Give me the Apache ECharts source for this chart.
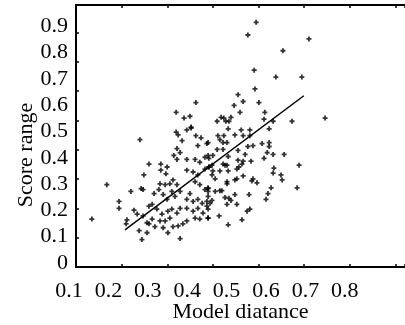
<!DOCTYPE html>
<html>
<head>
<meta charset="utf-8">
<script src="https://cdn.jsdelivr.net/npm/echarts@6/dist/echarts.min.js"></script>
<style>
html,body{margin:0;padding:0;background:#fff;}
#chart{width:405px;height:325px;}
</style>
</head>
<body>
<div id="chart"></div>
<script>
const xTickLabels = ['0.1','0.2','0.3','0.4','0.5','0.6','0.7','0.8'];
const yTickLabels = ['0','0.1','0.2','0.3','0.4','0.5','0.6','0.7','0.8','0.9'];
const xAxisTitle = 'Model diatance';
const yAxisTitle = 'Score range';

const modelDistance = [
 0.422,0.372,0.392,0.407,0.410,0.575,0.554,0.709,0.643,0.570,
 0.625,0.691,0.572,0.529,0.542,0.582,0.519,0.534,0.597,0.476,
 0.486,0.493,0.498,0.506,0.511,0.595,0.618,0.666,0.750,0.158,
 0.196,0.280,0.227,0.227,0.257,0.303,0.290,0.283,0.288,0.247,
 0.245,0.265,0.273,0.278,0.285,0.298,0.303,0.311,0.316,0.328,
 0.333,0.333,0.346,0.349,0.331,0.344,0.356,0.364,0.374,0.339,
 0.349,0.361,0.369,0.382,0.323,0.336,0.344,0.351,0.361,0.356,
 0.374,0.382,0.331,0.339,0.351,0.364,0.377,0.389,0.399,0.382,
 0.318,0.311,0.298,0.288,0.372,0.377,0.399,0.410,0.422,0.435,
 0.387,0.427,0.450,0.374,0.382,0.366,0.374,0.399,0.420,0.432,
 0.445,0.453,0.399,0.415,0.427,0.445,0.455,0.420,0.432,0.445,
 0.453,0.407,0.399,0.415,0.427,0.438,0.450,0.399,0.415,0.427,
 0.440,0.453,0.420,0.432,0.453,0.303,0.504,0.537,0.559,0.608,
 0.478,0.483,0.493,0.521,0.542,0.559,0.453,0.491,0.501,0.590,
 0.608,0.608,0.554,0.567,0.476,0.491,0.529,0.603,0.618,0.646,
 0.465,0.455,0.504,0.547,0.595,0.529,0.542,0.562,0.539,0.491,
 0.496,0.501,0.463,0.455,0.526,0.531,0.620,0.684,0.618,0.465,
 0.463,0.483,0.504,0.542,0.471,0.638,0.641,0.521,0.526,0.567,
 0.564,0.577,0.501,0.501,0.453,0.613,0.679,0.453,0.471,0.483,
 0.488,0.521,0.557,0.605,0.600,0.453,0.463,0.496,0.506,0.511,
 0.458,0.501,0.526,0.450,0.559,0.552,0.453,0.481,0.539,0.504
];
const scoreRange = [
 0.610,0.573,0.551,0.558,0.517,0.915,0.867,0.852,0.807,0.733,
 0.707,0.707,0.662,0.640,0.614,0.610,0.599,0.573,0.573,0.539,
 0.554,0.551,0.539,0.539,0.554,0.547,0.539,0.539,0.551,0.167,
 0.298,0.469,0.234,0.208,0.272,0.376,0.335,0.283,0.279,0.164,
 0.149,0.201,0.186,0.123,0.089,0.115,0.216,0.223,0.264,0.279,
 0.376,0.353,0.339,0.365,0.301,0.298,0.301,0.316,0.298,0.260,
 0.242,0.272,0.253,0.272,0.205,0.186,0.160,0.197,0.205,0.171,
 0.190,0.208,0.160,0.134,0.115,0.138,0.141,0.149,0.160,0.093,
 0.138,0.167,0.153,0.179,0.498,0.487,0.506,0.513,0.484,0.476,
 0.465,0.446,0.454,0.435,0.420,0.409,0.394,0.394,0.394,0.383,
 0.402,0.409,0.353,0.346,0.335,0.357,0.365,0.309,0.298,0.279,
 0.283,0.264,0.242,0.234,0.242,0.227,0.234,0.208,0.197,0.208,
 0.190,0.205,0.171,0.167,0.171,0.149,0.510,0.506,0.506,0.510,
 0.484,0.469,0.484,0.487,0.484,0.484,0.458,0.458,0.458,0.454,
 0.458,0.443,0.443,0.446,0.432,0.432,0.428,0.420,0.413,0.413,
 0.409,0.398,0.405,0.413,0.398,0.391,0.387,0.387,0.376,0.376,
 0.372,0.372,0.372,0.365,0.357,0.365,0.361,0.372,0.342,0.350,
 0.335,0.350,0.350,0.331,0.320,0.335,0.316,0.316,0.320,0.320,
 0.312,0.305,0.309,0.301,0.286,0.286,0.286,0.272,0.272,0.275,
 0.275,0.260,0.260,0.264,0.242,0.253,0.238,0.249,0.246,0.238,
 0.227,0.223,0.223,0.216,0.205,0.197,0.171,0.179,0.164,0.145
];
const fitX = [0.242, 0.696];
const fitY = [0.126, 0.636];

const FONT = 'Liberation Serif';
const points = modelDistance.map((x, i) => [x, scoreRange[i]]);
const fitLine = fitX.map((x, i) => [x, fitY[i]]);

const tickAxisBase = {
  type: 'value', gridIndex: 0, interval: 1, min: 0,
  axisLabel: { show: false }, splitLine: { show: false },
  axisLine: { show: true, lineStyle: { color: '#000', width: 2 } },
  axisTick: { show: true, inside: true, length: 3, lineStyle: { color: '#000', width: 1.5 } }
};

const chart = echarts.init(document.getElementById('chart'), null, { renderer: 'canvas' });
chart.setOption({
  animation: false,
  backgroundColor: '#fff',
  grid: [
    { left: 76, top: 5, width: 344, height: 262, show: false },
    { left: 69, top: -5.8, width: 275.8, height: 268.8, show: false }
  ],
  xAxis: [
    Object.assign({}, tickAxisBase, { position: 'bottom', max: 7.21 }),
    Object.assign({}, tickAxisBase, { position: 'top', max: 7.21 }),
    {
      type: 'value', gridIndex: 1, min: 0.1, max: 0.8, interval: 0.1,
      axisLine: { show: false }, axisTick: { show: false }, splitLine: { show: false },
      axisLabel: {
        margin: 17, color: '#000', fontFamily: FONT, fontSize: 22,
        formatter: v => xTickLabels[Math.round(v * 10) - 1] || ''
      }
    }
  ],
  yAxis: [
    Object.assign({}, tickAxisBase, { position: 'left', max: 8.94 }),
    {
      type: 'value', gridIndex: 1, min: 0, max: 1, interval: 0.1,
      axisLine: { show: false }, axisTick: { show: false }, splitLine: { show: false },
      axisLabel: {
        margin: 1, color: '#000', fontFamily: FONT, fontSize: 22,
        formatter: v => yTickLabels[Math.round(v * 10)] || ''
      }
    }
  ],
  graphic: [
    { type: 'text', x: 240.5, y: 312, style: { text: xAxisTitle, fill: '#000', font: '22px "Liberation Serif"', textAlign: 'center', textVerticalAlign: 'middle' } },
    { type: 'text', x: 26, y: 155, rotation: Math.PI / 2, style: { text: yAxisTitle, fill: '#000', font: '22px "Liberation Serif"', textAlign: 'center', textVerticalAlign: 'middle' } }
  ],
  series: [
    {
      type: 'scatter', xAxisIndex: 2, yAxisIndex: 1, data: points,
      symbol: 'path://M1.6,0H3.4V1.6H5V3.4H3.4V5H1.6V3.4H0V1.6H1.6Z', symbolSize: 5,
      itemStyle: { color: '#000' }, silent: true
    },
    {
      type: 'line', xAxisIndex: 2, yAxisIndex: 1, data: fitLine,
      symbol: 'none', lineStyle: { color: '#000', width: 1.5 }, silent: true
    }
  ]
});
</script>
</body>
</html>
